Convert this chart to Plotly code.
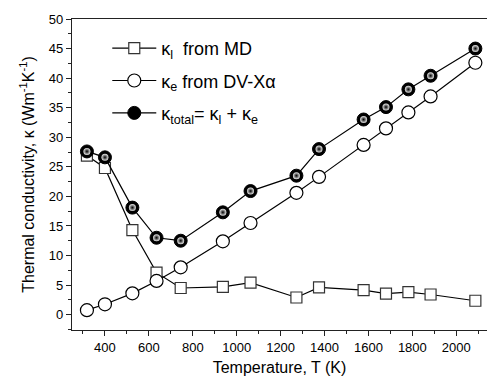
import plotly.graph_objects as go

# Data
temperature = [318, 400, 525, 635, 745, 937, 1063, 1272, 1375, 1578, 1680, 1782, 1883, 2087]
kappa_l = [26.9, 24.8, 14.3, 7.1, 4.5, 4.7, 5.4, 2.9, 4.6, 4.15, 3.55, 3.8, 3.4, 2.35]
kappa_e = [0.75, 1.75, 3.6, 5.7, 8.0, 12.4, 15.5, 20.6, 23.3, 28.7, 31.5, 34.2, 36.9, 42.6]
kappa_total = [27.6, 26.6, 18.1, 13.0, 12.5, 17.3, 20.9, 23.5, 28.0, 33.0, 35.1, 38.1, 40.4, 45.0]

x_ticks = [400, 600, 800, 1000, 1200, 1400, 1600, 1800, 2000]
y_ticks = [0, 5, 10, 15, 20, 25, 30, 35, 40, 45, 50]

names = [
    "κ<sub>l</sub>\u00a0\u00a0from MD",
    "κ<sub>e</sub> from DV-Xα",
    "κ<sub>total</sub>= κ<sub>l</sub> + κ<sub>e</sub>",
]

FONT = "Liberation Sans, Arial, sans-serif"
LINE = dict(color="black", width=1.2)

fig = go.Figure()
fig.add_trace(go.Scatter(
    x=temperature, y=kappa_l, mode="lines+markers", name=names[0],
    legendgroup="a", line=LINE,
    marker=dict(symbol="square", size=11, color="white", line=dict(color="#333", width=1.2)),
))
fig.add_trace(go.Scatter(
    x=temperature, y=kappa_e, mode="lines+markers", name=names[1],
    legendgroup="b", line=LINE,
    marker=dict(symbol="circle", size=13, color="white", line=dict(color="black", width=1.2)),
))
fig.add_trace(go.Scatter(
    x=temperature, y=kappa_total, mode="lines+markers", name=names[2],
    legendgroup="c", line=LINE,
    marker=dict(symbol="circle", size=13, color="#000000",
                line=dict(color="black", width=1)),
))
# highlight on spheres
fig.add_trace(go.Scatter(
    x=temperature, y=kappa_total, mode="markers", showlegend=False, hoverinfo="skip",
    marker=dict(symbol="circle", size=7, color="#e8e8e8",
                gradient=dict(type="radial", color="#000000"), line=dict(width=0)),
))

axis_common = dict(
    showgrid=False, zeroline=False, showline=True, linecolor="#222", linewidth=1.3,
    ticks="outside", tickcolor="#222", tickwidth=1.2, ticklen=5,
    tickfont=dict(family=FONT, size=13, color="black"),
)

fig.update_xaxes(
    **axis_common, range=[250, 2140], tickvals=x_ticks, mirror=True,
    minor=dict(dtick=100, tick0=0, ticks="outside", ticklen=3, tickcolor="#222", tickwidth=1),
    title=dict(text="Temperature, T (K)", font=dict(family=FONT, size=16, color="black"), standoff=8),
)
fig.update_yaxes(
    **axis_common, range=[-2.6, 50], tickvals=y_ticks,
    minor=dict(dtick=2.5, tick0=0, ticks="outside", ticklen=3, tickcolor="#222", tickwidth=1),
    title=dict(text="Thermal conductivity, κ (Wm<sup>-1</sup>K<sup>-1</sup>)",
               font=dict(family=FONT, size=16, color="black"), standoff=10),
)

fig.update_layout(
    width=488, height=383,
    margin=dict(l=72, r=1, t=19, b=53),
    paper_bgcolor="white", plot_bgcolor="white",
    showlegend=True,
    legend=dict(x=0.085, y=0.965, xanchor="left", yanchor="top",
                font=dict(family=FONT, size=18, color="black"),
                bgcolor="rgba(0,0,0,0)", tracegroupgap=6, itemwidth=44),
)

fig.write_html("out.html", config={"displayModeBar": False},
               post_script="document.body.style.margin='0';document.body.style.padding='0';")
